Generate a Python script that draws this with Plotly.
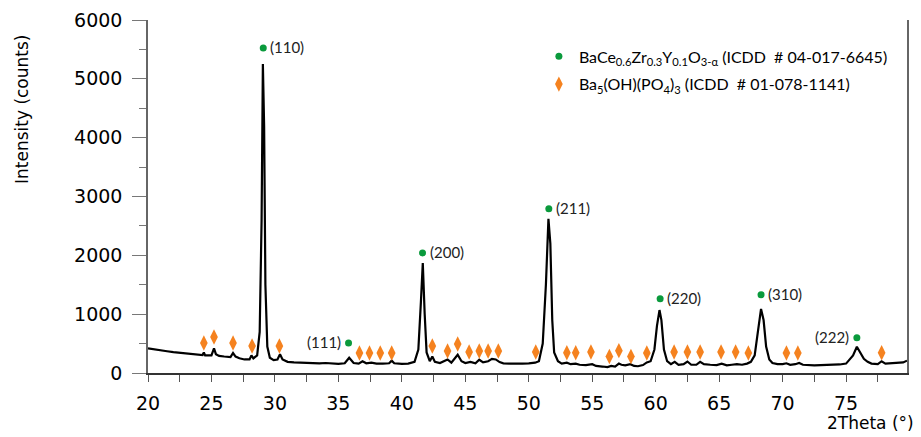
import plotly.graph_objects as go

# XRD pattern
two_theta = [20.0, 20.5, 21.0, 21.5, 22.0, 22.5, 23.0, 23.5, 24.0, 24.3, 24.4, 24.5, 25.0, 25.2, 25.35, 25.6,
             26.0, 26.5, 26.7, 26.9, 27.2, 27.6, 28.0, 28.15, 28.3, 28.6, 28.8, 28.95, 29.05, 29.15, 29.25, 29.4,
             29.6, 29.9, 30.2, 30.4, 30.6, 31.0, 31.5, 32.0, 32.5, 33.0, 33.5, 34.0, 34.5, 35.0, 35.5, 35.85,
             36.2, 36.6, 36.9, 37.2, 37.6, 38.0, 38.5, 39.0, 39.2, 39.4, 40.0, 40.5, 41.0, 41.3, 41.5, 41.65,
             41.8, 41.95, 42.2, 42.4, 42.6, 43.0, 43.6, 43.9, 44.4, 44.7, 45.0, 45.4, 45.8, 46.1, 46.4, 46.8,
             47.1, 47.4, 47.7, 48.0, 48.5, 49.0, 49.5, 50.0, 50.5, 50.8, 51.1, 51.35, 51.55, 51.7, 51.85, 52.0,
             52.3, 52.6, 53.0, 53.3, 53.7, 54.0, 54.5, 55.0, 55.3, 55.8, 56.2, 56.5, 56.8, 57.1, 57.3, 57.6,
             58.0, 58.3, 58.6, 59.0, 59.3, 59.6, 59.9, 60.1, 60.3, 60.45, 60.65, 60.9, 61.2, 61.5, 61.8, 62.2,
             62.5, 62.8, 63.2, 63.5, 63.8, 64.3, 64.8, 65.2, 65.6, 66.0, 66.4, 66.8, 67.2, 67.5, 67.8, 68.05,
             68.3, 68.5, 68.7, 68.95, 69.2, 69.6, 70.0, 70.3, 70.6, 71.0, 71.3, 71.6, 72.0, 72.5, 73.0, 73.5,
             74.0, 74.5, 75.0, 75.3, 75.55, 75.85, 76.1, 76.4, 76.7, 77.0, 77.5, 77.8, 78.1, 78.6, 79.0, 79.5,
             79.8]
intensity = [420, 400, 385, 370, 355, 345, 330, 320, 310, 305, 350, 300, 300, 420, 320, 290,
             280, 270, 340, 280, 250, 230, 230, 300, 250, 300, 700, 2600, 5250, 4200, 1500, 450,
             260, 220, 230, 320, 230, 190, 180, 175, 170, 165, 165, 170, 160, 155, 165, 260,
             170, 160, 200, 165, 175, 160, 160, 165, 210, 165, 155, 160, 190, 400, 1200, 1870,
             1000, 350, 200, 280, 190, 170, 230, 175, 310, 200, 170, 190, 165, 225, 180, 200,
             240, 230, 185, 165, 160, 155, 160, 165, 175, 200, 500, 1500, 2620, 2200, 900, 350,
             200, 160, 175, 150, 160, 140, 135, 150, 120, 110, 100, 120, 110, 160, 140, 130,
             150, 120, 115, 135, 180, 200, 400, 800, 1070, 900, 400, 200, 150, 190, 140, 150,
             195, 140, 140, 190, 150, 140, 135, 160, 130, 140, 150, 140, 160, 190, 300, 700,
             1090, 900, 450, 230, 170, 150, 150, 165, 140, 150, 170, 140, 130, 130, 135, 140,
             135, 145, 160, 230, 300, 445, 360, 240, 190, 160, 150, 200, 160, 170, 170, 180,
             210]

# BaCe0.6Zr0.3Y0.1O3 reflections (green dots)
perov_x = [29.08, 35.8, 41.63, 51.58, 60.35, 68.3, 75.85]
perov_y = [5525, 510, 2040, 2790, 1260, 1330, 600]
perov_hkl = ["(110)", "(111)", "(200)", "(211)", "(220)", "(310)", "(222)"]
perov_side = ["right", "left", "right", "right", "right", "right", "left"]

# Ba5(OH)(PO4)3 reflections (orange diamonds)
apat_x = [24.4, 25.2, 26.7, 28.2, 30.35, 36.66, 37.45, 38.3, 39.2, 42.4, 43.6, 44.4, 45.3, 46.1, 46.8,
          47.6, 50.55, 53.0, 53.7, 54.9, 56.35, 57.1, 58.05, 59.3, 61.45, 62.5, 63.5, 65.15, 66.3, 67.3,
          70.3, 71.2, 77.8]
apat_y = [510, 612, 510, 460, 460, 340, 340, 340, 340, 460, 374, 493, 357, 374, 374,
          374, 357, 345, 345, 357, 280, 380, 280, 340, 357, 357, 357, 357, 357, 340,
          340, 340, 345]

x_ticks = [20, 25, 30, 35, 40, 45, 50, 55, 60, 65, 70, 75]
y_ticks = [0, 1000, 2000, 3000, 4000, 5000, 6000]

GREEN = "#0a9a3c"
ORANGE = "#f5821f"
AXFONT = "DejaVu Sans, Liberation Sans, Arial, sans-serif"
LBLFONT = "Lato, Noto Sans, sans-serif"

fig = go.Figure()
fig.add_trace(go.Scatter(x=two_theta, y=intensity, mode="lines",
                         line=dict(color="black", width=2.2), showlegend=False, hoverinfo="skip"))
fig.add_trace(go.Scatter(x=perov_x, y=perov_y, mode="markers", legendgroup="a",
                         marker=dict(color=GREEN, size=7, symbol="circle"),
                         name="BaCe<sub>0.6</sub>Zr<sub>0.3</sub>Y<sub>0.1</sub>O<sub>3-α</sub> (ICDD  # 04-017-6645)"))
fig.add_trace(go.Scatter(x=apat_x, y=apat_y, mode="markers", legendgroup="b",
                         marker=dict(color=ORANGE, size=11, symbol="diamond-tall"),
                         name="Ba<sub>5</sub>(OH)(PO<sub>4</sub>)<sub>3</sub> (ICDD  # 01-078-1141)"))

for x, y, t, s in zip(perov_x, perov_y, perov_hkl, perov_side):
    fig.add_annotation(x=x, y=y, text=t, showarrow=False,
                       xanchor="left" if s == "right" else "right",
                       xshift=5 if s == "right" else -6, yshift=1,
                       font=dict(family=LBLFONT, size=15, color="#222"))

fig.add_annotation(x=1.0, y=0, xref="paper", yref="paper", text="2Theta (°)", showarrow=False,
                   xanchor="right", yanchor="top", yshift=-38, xshift=9,
                   font=dict(family=AXFONT, size=17, color="black"))
fig.add_annotation(x=0, y=0.745, xref="paper", yref="paper", text="Intensity (counts)", showarrow=False,
                   textangle=-90, xanchor="center", yanchor="middle", xshift=-126,
                   font=dict(family=AXFONT, size=17, color="black"))

# page body has an 8px margin; figure is sized/offset to land at the reference pixels
fig.update_layout(
    width=913, height=429,
    margin=dict(l=140, r=14, t=12, b=64, autoexpand=False),
    plot_bgcolor="white", paper_bgcolor="white",
    font=dict(family=AXFONT, size=17, color="black"),
    legend=dict(x=0.515, y=0.945, xanchor="left", yanchor="top",
                font=dict(family=LBLFONT, size=16, color="black"),
                itemwidth=30, bgcolor="rgba(0,0,0,0)", traceorder="grouped", tracegroupgap=4),
    xaxis=dict(range=[20, 79.8], tickvals=x_ticks, ticks="outside", ticklen=7, tickcolor="#555",
               showline=True, linecolor="#333", linewidth=1.5, showgrid=False, zeroline=False,
               minor=dict(dtick=2.5, ticks="outside", ticklen=7, tickcolor="#555"),
               tickfont=dict(size=19), ticklabelstandoff=5, automargin=False),
    yaxis=dict(range=[0, 6000], tickvals=y_ticks, ticks="outside", ticklen=14, tickcolor="#777",
               showline=True, linecolor="#666", linewidth=1.5, mirror=True, showgrid=False, zeroline=False,
               minor=dict(dtick=500, ticks="outside", ticklen=7, tickcolor="#777"),
               tickfont=dict(size=19), ticklabelstandoff=6, automargin=False),
)

fig.write_html("out.html")
